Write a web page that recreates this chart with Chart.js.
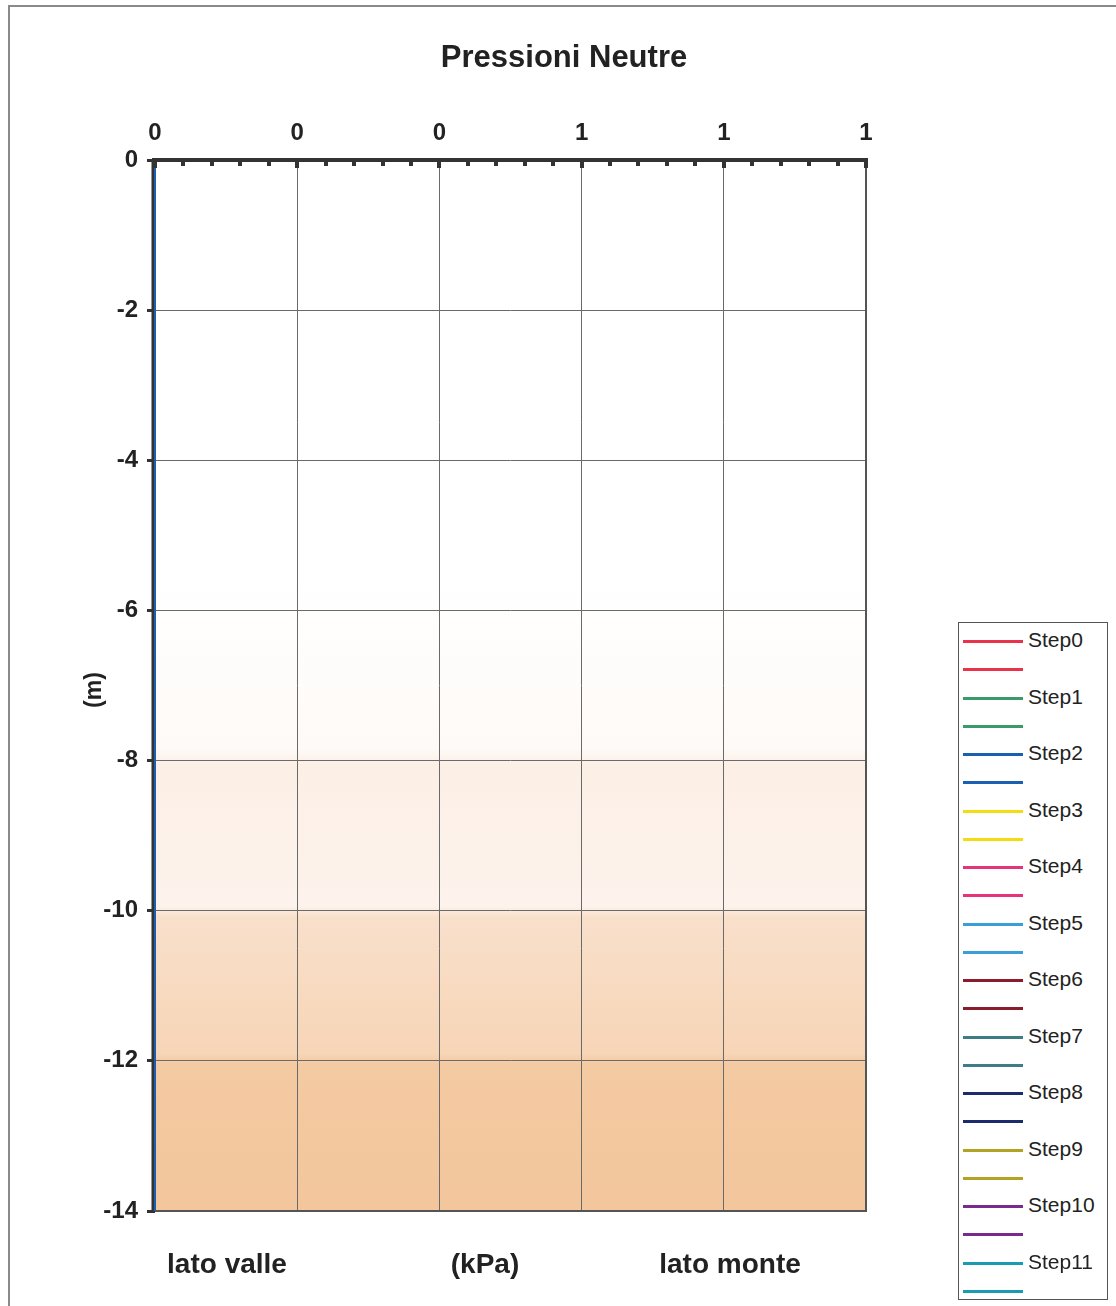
<!DOCTYPE html>
<html>
<head>
<meta charset="utf-8">
<script src="https://cdn.jsdelivr.net/npm/chart.js@4/dist/chart.umd.min.js"></script>
<style>
  html, body { margin: 0; padding: 0; background: #fff; }
  body { width: 1116px; height: 1306px; position: relative; overflow: hidden; font-family: "Liberation Sans", Arial, sans-serif; }
  #frame { position: absolute; left: 8px; top: 5px; width: 1200px; height: 1400px; border-left: 2px solid #8a8a8a; border-top: 2px solid #8a8a8a; }
  #wrap { position: absolute; left: 0; top: 0; width: 1116px; height: 1306px; }
  #legend { position: absolute; left: 958px; top: 622px; width: 150px; height: 678px; border: 1px solid #555; background: #fff; box-sizing: border-box; }
  .row { position: absolute; left: 0; height: 20px; }
  .row .ln { position: absolute; left: 4px; top: 9px; width: 60px; height: 3px; }
  .row .tx { position: absolute; left: 69px; top: -3px; font-size: 21px; color: #222; white-space: nowrap; }
</style>
</head>
<body>
<div id="frame"></div>
<div id="wrap"><canvas id="chart" width="1116" height="1306"></canvas></div>
<div id="legend"></div>
<script>
// depth (m) and pore pressure (kPa) along the wall, both sides
const depths = [0, -2, -4, -6, -8, -10, -12, -14];
const stepNames = ['Step0', 'Step1', 'Step2', 'Step3', 'Step4', 'Step5', 'Step6', 'Step7', 'Step8', 'Step9', 'Step10', 'Step11'];
const stepColors = ['#e8334a', '#3a9a6a', '#1a5fb0', '#f2de10', '#e5337c', '#3a9fd6', '#8b1c2c', '#3f7d86', '#1c2b6c', '#b3a322', '#7a2a8c', '#1b9bb2'];
const valleValues = [
  [0, 0, 0, 0, 0, 0, 0, 0], [0, 0, 0, 0, 0, 0, 0, 0], [0, 0, 0, 0, 0, 0, 0, 0],
  [0, 0, 0, 0, 0, 0, 0, 0], [0, 0, 0, 0, 0, 0, 0, 0], [0, 0, 0, 0, 0, 0, 0, 0],
  [0, 0, 0, 0, 0, 0, 0, 0], [0, 0, 0, 0, 0, 0, 0, 0], [0, 0, 0, 0, 0, 0, 0, 0],
  [0, 0, 0, 0, 0, 0, 0, 0], [0, 0, 0, 0, 0, 0, 0, 0], [0, 0, 0, 0, 0, 0, 0, 0]
];
const monteValues = [
  [0, 0, 0, 0, 0, 0, 0, 0], [0, 0, 0, 0, 0, 0, 0, 0], [0, 0, 0, 0, 0, 0, 0, 0],
  [0, 0, 0, 0, 0, 0, 0, 0], [0, 0, 0, 0, 0, 0, 0, 0], [0, 0, 0, 0, 0, 0, 0, 0],
  [0, 0, 0, 0, 0, 0, 0, 0], [0, 0, 0, 0, 0, 0, 0, 0], [0, 0, 0, 0, 0, 0, 0, 0],
  [0, 0, 0, 0, 0, 0, 0, 0], [0, 0, 0, 0, 0, 0, 0, 0], [0, 0, 0, 0, 0, 0, 0, 0]
];
const xTicks = [0, 0.2, 0.4, 0.6, 0.8, 1];
const yTicks = [0, -2, -4, -6, -8, -10, -12, -14];

const FONT = '"Liberation Sans", Arial, sans-serif';

const datasets = [];
stepNames.forEach((name, i) => {
  [valleValues[i], monteValues[i]].forEach((vals, side) => {
    datasets.push({
      label: side === 0 ? name : '',
      data: depths.map((d, k) => ({ x: vals[k], y: d })),
      borderColor: stepColors[i],
      borderWidth: 2,
      showLine: true,
      pointRadius: 0,
      clip: 4,
      // keep the blue one on top
      order: i === 2 ? -1 : i
    });
  });
});

// shaded soil background and axis lines, under the series
const soilBackground = {
  id: 'soilBackground',
  beforeDraw(chart) {
    const { ctx, chartArea: a } = chart;
    const g = ctx.createLinearGradient(0, a.top, 0, a.bottom);
    g.addColorStop(0, '#ffffff');
    g.addColorStop(0.40, '#ffffff');
    g.addColorStop(0.56, '#fefaf7');
    g.addColorStop(0.575, '#fcefe6');
    g.addColorStop(0.71, '#fdf3ec');
    g.addColorStop(0.72, '#f9e0cb');
    g.addColorStop(0.85, '#f7d5b7');
    g.addColorStop(0.86, '#f4caa2');
    g.addColorStop(1, '#f3c69c');
    ctx.save();
    ctx.fillStyle = g;
    ctx.fillRect(a.left, a.top, a.right - a.left, a.bottom - a.top);
    ctx.restore();
  },
  beforeDatasetsDraw(chart) {
    const { ctx, chartArea: a } = chart;
    ctx.save();
    // right and bottom edges
    ctx.strokeStyle = '#555';
    ctx.lineWidth = 2;
    ctx.beginPath();
    ctx.moveTo(a.right, a.top);
    ctx.lineTo(a.right, a.bottom);
    ctx.lineTo(a.left, a.bottom);
    ctx.stroke();
    // left axis line
    ctx.strokeStyle = '#333';
    ctx.lineWidth = 3;
    ctx.beginPath();
    ctx.moveTo(a.left - 2, a.top);
    ctx.lineTo(a.left - 2, a.bottom + 1);
    ctx.stroke();
    ctx.restore();
  }
};

// top axis, inner minor ticks and the free texts
const decorations = {
  id: 'decorations',
  afterDraw(chart) {
    const { ctx, chartArea: a, scales } = chart;
    ctx.save();
    ctx.strokeStyle = '#333';
    ctx.lineWidth = 4;
    ctx.beginPath();
    ctx.moveTo(a.left - 3, a.top);
    ctx.lineTo(a.right + 2, a.top);
    ctx.stroke();
    // minor ticks pointing into the plot
    ctx.fillStyle = '#333';
    for (let k = 0; k <= 25; k++) {
      const px = scales.x.getPixelForValue(k * 0.04);
      const h = k % 5 === 0 ? 8 : 6;
      ctx.fillRect(Math.round(px) - 2, a.top, 4, h);
    }
    // title
    ctx.fillStyle = '#222';
    ctx.textAlign = 'center';
    ctx.textBaseline = 'middle';
    ctx.font = 'bold 31px ' + FONT;
    ctx.fillText('Pressioni Neutre', 564, 58);
    // bottom captions
    ctx.font = 'bold 28px ' + FONT;
    ctx.fillText('lato valle', 227, 1265);
    ctx.fillText('(kPa)', 485, 1265);
    ctx.fillText('lato monte', 730, 1265);
    // y axis caption
    ctx.translate(95, 690);
    ctx.rotate(-Math.PI / 2);
    ctx.font = 'bold 23px ' + FONT;
    ctx.fillText('(m)', 0, 0);
    ctx.restore();
  }
};

new Chart(document.getElementById('chart'), {
  type: 'scatter',
  data: { datasets },
  options: {
    responsive: false,
    animation: false,
    layout: { padding: { left: 0, top: 0, right: 250, bottom: 95 } },
    plugins: {
      legend: { display: false },
      tooltip: { enabled: false },
      title: { display: false }
    },
    scales: {
      x: {
        type: 'linear',
        position: 'top',
        min: 0,
        max: 1,
        afterBuildTicks: s => { s.ticks = xTicks.map(v => ({ value: v })); },
        afterFit: s => { s.height = 160; },
        ticks: {
          callback: v => Number(v).toFixed(0),
          font: { family: FONT, size: 24, weight: 'bold' },
          color: '#222',
          padding: 12,
          maxRotation: 0
        },
        grid: { color: '#6a6a6a', lineWidth: 1, drawTicks: false },
        border: { display: false }
      },
      y: {
        type: 'linear',
        min: -14,
        max: 0,
        afterBuildTicks: s => { s.ticks = yTicks.map(v => ({ value: v })); },
        afterFit: s => { s.width = 155; },
        ticks: {
          font: { family: FONT, size: 24, weight: 'bold' },
          color: '#222',
          padding: 9
        },
        grid: { color: '#6a6a6a', lineWidth: 1, tickLength: 8, tickColor: '#333', tickWidth: 3 },
        border: { display: false }
      }
    }
  },
  plugins: [soilBackground, decorations]
});

// legend box, one row per series
const legend = document.getElementById('legend');
datasets.forEach((ds, i) => {
  const row = document.createElement('div');
  row.className = 'row';
  row.style.top = (8 + i * 28.26) + 'px';
  row.style.width = '148px';
  const ln = document.createElement('div');
  ln.className = 'ln';
  ln.style.background = ds.borderColor;
  row.appendChild(ln);
  if (ds.label) {
    const tx = document.createElement('div');
    tx.className = 'tx';
    tx.textContent = ds.label;
    row.appendChild(tx);
  }
  legend.appendChild(row);
});
</script>
</body>
</html>
